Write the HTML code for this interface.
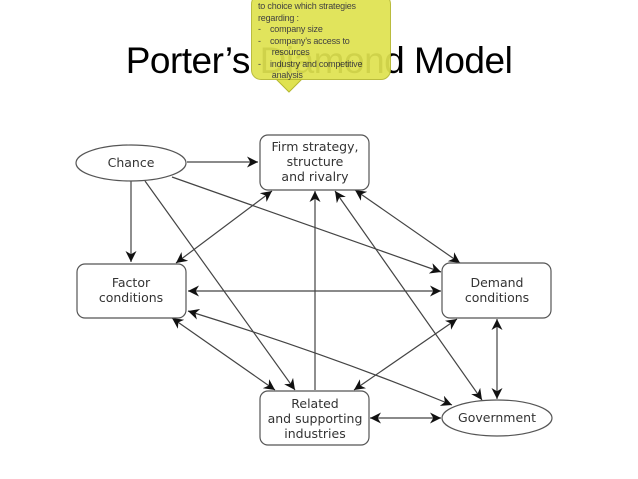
<!DOCTYPE html>
<html><head><style>
body{margin:0;width:638px;height:479px;background:#fff;overflow:hidden;position:relative;font-family:"Liberation Sans",sans-serif}
.title{position:absolute;left:0;width:638px;top:40px;text-align:center;font-size:37px;letter-spacing:-0.5px;color:#000;font-family:"Liberation Sans",sans-serif}
.call{position:absolute;left:251px;top:-6px;width:140px;height:86px;background:#dfe250;border:1px solid #b5b830;border-radius:10px;opacity:.93;font-size:9px;line-height:11.5px;color:#333;padding:0 0 0 6px;box-sizing:border-box;letter-spacing:-0.2px}
</style></head><body>
<div class="title">Porter’s Diamond Model</div>
<svg style="position:absolute;left:0;top:0" width="638" height="479">
<polygon points="276,79 302,79 289,92" fill="#dfe250" stroke="#b5b830"/>
</svg>
<div class="call"><div style="margin-top:6px">to choice which strategies<br>regarding :<br>-&nbsp;&nbsp;&nbsp;&nbsp;company size<br>-&nbsp;&nbsp;&nbsp;&nbsp;company’s access to<br>&nbsp;&nbsp;&nbsp;&nbsp;&nbsp;&nbsp;resources<br>-&nbsp;&nbsp;&nbsp;&nbsp;industry and competitive<br>&nbsp;&nbsp;&nbsp;&nbsp;&nbsp;&nbsp;analysis</div></div>
<svg style="position:absolute;left:0;top:0" width="638" height="479" font-family="DejaVu Sans, sans-serif" font-size="12.5" fill="#333">
<defs><marker id="a" viewBox="0 0 10 10" refX="10" refY="5" markerWidth="11" markerHeight="11" markerUnits="userSpaceOnUse" orient="auto-start-reverse"><path d="M0,0 L10,5 L0,10 L3,5z" fill="#111"/></marker></defs>
<g stroke="#444" stroke-width="1.2" fill="none">
<line x1="187" y1="162" x2="258" y2="162" marker-end="url(#a)"/>
<line x1="131" y1="181" x2="131" y2="262" marker-end="url(#a)"/>
<line x1="172" y1="177" x2="441" y2="272" marker-end="url(#a)"/>
<line x1="145" y1="181" x2="295" y2="390" marker-end="url(#a)"/>
<line x1="272" y1="191" x2="176" y2="263" marker-start="url(#a)" marker-end="url(#a)"/>
<line x1="315" y1="390" x2="315" y2="191" marker-end="url(#a)"/>
<line x1="335" y1="191" x2="482" y2="400" marker-start="url(#a)" marker-end="url(#a)"/>
<line x1="355" y1="190" x2="460" y2="263" marker-start="url(#a)" marker-end="url(#a)"/>
<line x1="188" y1="291" x2="441" y2="291" marker-start="url(#a)" marker-end="url(#a)"/>
<line x1="172" y1="318" x2="275" y2="390" marker-start="url(#a)" marker-end="url(#a)"/>
<path d="M188,311 Q330,355 452,405" marker-start="url(#a)" marker-end="url(#a)"/>
<line x1="457" y1="319" x2="354" y2="390" marker-start="url(#a)" marker-end="url(#a)"/>
<line x1="497" y1="319" x2="497" y2="399" marker-start="url(#a)" marker-end="url(#a)"/>
<line x1="370" y1="418" x2="441" y2="418" marker-start="url(#a)" marker-end="url(#a)"/>
</g>
<g stroke="#555" stroke-width="1.2" fill="#fff">
<ellipse cx="131" cy="163" rx="55" ry="18"/>
<rect x="260" y="135" width="109" height="55" rx="8"/>
<rect x="77" y="264" width="109" height="54" rx="8"/>
<rect x="442" y="263" width="109" height="55" rx="8"/>
<rect x="260" y="391" width="109" height="54" rx="8"/>
<ellipse cx="497" cy="418" rx="55" ry="18"/>
</g>
<g text-anchor="middle">
<text x="131" y="167">Chance</text>
<text x="315" y="151">Firm strategy,</text><text x="315" y="166">structure</text><text x="315" y="181">and rivalry</text>
<text x="131" y="287">Factor</text><text x="131" y="302">conditions</text>
<text x="497" y="287">Demand</text><text x="497" y="302">conditions</text>
<text x="315" y="408">Related</text><text x="315" y="423">and supporting</text><text x="315" y="438">industries</text>
<text x="497" y="422">Government</text>
</g>
</svg>
</body></html>
